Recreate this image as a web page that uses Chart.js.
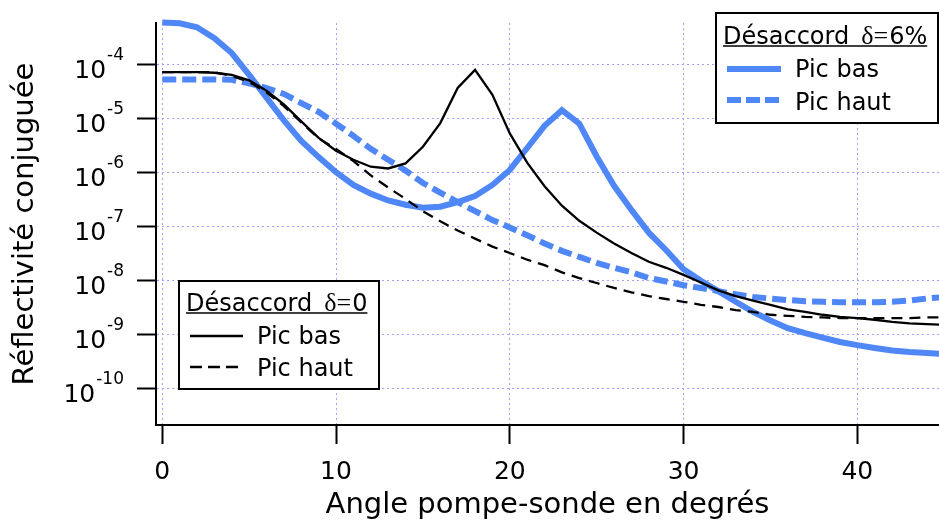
<!DOCTYPE html>
<html>
<head>
<meta charset="utf-8">
<script src="https://cdn.jsdelivr.net/npm/chart.js@4.4.0/dist/chart.umd.min.js"></script>
<style>
  html, body { margin: 0; padding: 0; background: #fff; }
  canvas { display: block; }
</style>
</head>
<body>
<canvas id="chart" width="939" height="520"></canvas>
<script>
// angle pompe-sonde (degrés)
const angles = [0, 1, 2, 3, 4, 5, 6, 7, 8, 9, 10, 11, 12, 13, 14, 15, 16, 17, 18, 19, 20, 21, 22,
  23, 24, 25, 26, 27, 28, 29, 30, 31, 32, 33, 34, 35, 36, 37, 38, 39, 40, 41, 42, 43, 44, 45];

// désaccord 6%
const picBas6 = [5.9e-4, 5.7e-4, 4.8e-4, 3.0e-4, 1.6e-4, 6.3e-5, 2.4e-5, 9.1e-6, 3.8e-6, 1.9e-6,
  1.0e-6, 5.8e-7, 4.0e-7, 3.0e-7, 2.5e-7, 2.2e-7, 2.3e-7, 2.8e-7, 3.6e-7, 5.8e-7,
  1.1e-6, 2.8e-6, 7.2e-6, 1.4e-5, 7.9e-6, 1.95e-6, 5.6e-7, 2.0e-7, 7.6e-8, 3.6e-8,
  1.6e-8, 9.8e-9, 6.3e-9, 4.0e-9, 2.6e-9, 1.8e-9, 1.3e-9, 1.05e-9, 8.7e-10, 7.2e-10,
  6.3e-10, 5.6e-10, 5.0e-10, 4.7e-10, 4.5e-10, 4.3e-10];
const picHaut6 = [5.2e-5, 5.2e-5, 5.2e-5, 5.2e-5, 5.1e-5, 4.4e-5, 3.6e-5, 2.8e-5, 1.9e-5, 1.3e-5,
  7.9e-6, 4.7e-6, 2.7e-6, 1.7e-6, 1.07e-6, 6.3e-7, 4.2e-7, 2.8e-7, 1.9e-7, 1.3e-7,
  9.5e-8, 6.8e-8, 4.8e-8, 3.5e-8, 2.7e-8, 2.1e-8, 1.7e-8, 1.4e-8, 1.1e-8, 9.5e-9,
  8.1e-9, 7.2e-9, 6.3e-9, 5.5e-9, 4.9e-9, 4.6e-9, 4.3e-9, 4.1e-9, 4.0e-9, 3.9e-9,
  3.9e-9, 3.9e-9, 4.0e-9, 4.2e-9, 4.6e-9, 4.9e-9];

// désaccord 0
const picBas0 = [7.1e-5, 7.1e-5, 7.1e-5, 6.9e-5, 6.3e-5, 5.0e-5, 3.2e-5, 1.8e-5, 8.7e-6, 4.3e-6,
  2.5e-6, 1.7e-6, 1.26e-6, 1.17e-6, 1.45e-6, 2.95e-6, 8.1e-6, 3.6e-5, 7.8e-5, 2.7e-5,
  5.2e-6, 1.5e-6, 5.5e-7, 2.4e-7, 1.26e-7, 7.6e-8, 4.8e-8, 3.2e-8, 2.2e-8, 1.7e-8,
  1.26e-8, 9.1e-9, 6.5e-9, 5.1e-9, 4.2e-9, 3.5e-9, 2.9e-9, 2.6e-9, 2.3e-9, 2.1e-9,
  2.0e-9, 1.86e-9, 1.7e-9, 1.6e-9, 1.55e-9, 1.5e-9];
const picHaut0 = [7.1e-5, 7.1e-5, 7.1e-5, 7.1e-5, 6.0e-5, 4.7e-5, 3.0e-5, 1.66e-5, 8.3e-6, 4.2e-6,
  2.7e-6, 1.6e-6, 8.7e-7, 5.2e-7, 3.2e-7, 1.9e-7, 1.23e-7, 8.3e-8, 5.9e-8, 4.2e-8,
  3.2e-8, 2.4e-8, 1.9e-8, 1.4e-8, 1.1e-8, 8.9e-9, 7.2e-9, 6.0e-9, 5.1e-9, 4.5e-9,
  4.0e-9, 3.5e-9, 3.2e-9, 2.8e-9, 2.6e-9, 2.3e-9, 2.2e-9, 2.1e-9, 2.05e-9, 2.0e-9,
  2.0e-9, 2.0e-9, 2.0e-9, 2.0e-9, 2.05e-9, 2.05e-9];

const xTicks = [0, 10, 20, 30, 40];
const decades = [1e-10, 1e-9, 1e-8, 1e-7, 1e-6, 1e-5, 1e-4];
const decadeExp = ['-10', '-9', '-8', '-7', '-6', '-5', '-4'];

const BLUE = '#4f87f7';
const GRID = '#a0a0ff';
const SANS = '"DejaVu Sans"';
const SERIF = '"Liberation Serif"';

Chart.defaults.font.family = SANS;
Chart.defaults.color = '#000';

// labels "10^n" with a real superscript
const yLabels = {
  id: 'yLabels',
  afterDraw(chart) {
    const ctx = chart.ctx;
    const y = chart.scales.y;
    ctx.save();
    ctx.fillStyle = '#000';
    ctx.textAlign = 'right';
    ctx.textBaseline = 'alphabetic';
    decades.forEach((v, i) => {
      const py = y.getPixelForValue(v);
      ctx.font = '17px ' + SANS;
      ctx.fillText(decadeExp[i], 124, py - 4);
      const w = ctx.measureText(decadeExp[i]).width;
      ctx.font = '25px ' + SANS;
      ctx.fillText('10', 124 - w - 1, py + 14);
    });
    ctx.restore();
  }
};

// two boxed legends, one per detuning
const legendBoxes = [
  { x: 716, y: 13, w: 222, h: 110, tx: 723, ty: 44, delta: '6%', sx: 727, sw: 54, lx: 795,
    rows: [{ ds: 2, y: 69, base: 77, dash: [] }, { ds: 3, y: 100, base: 110, dash: [14, 5] }] },
  { x: 179, y: 281, w: 200, h: 108, tx: 186, ty: 311, delta: '0', sx: 190, sw: 53, lx: 257,
    rows: [{ ds: 0, y: 336, base: 344, dash: [] }, { ds: 1, y: 367, base: 376, dash: [12, 6] }] }
];

const boxLegends = {
  id: 'boxLegends',
  afterDraw(chart) {
    const ctx = chart.ctx;
    legendBoxes.forEach(b => {
      ctx.save();
      ctx.fillStyle = '#fff';
      ctx.fillRect(b.x, b.y, b.w, b.h);
      ctx.strokeStyle = '#000';
      ctx.lineWidth = 2;
      ctx.strokeRect(b.x, b.y, b.w, b.h);

      ctx.fillStyle = '#000';
      ctx.textAlign = 'left';
      ctx.textBaseline = 'alphabetic';
      let x = b.tx;
      ctx.font = '24px ' + SANS;
      ctx.fillText('Désaccord', x, b.ty);
      x += ctx.measureText('Désaccord').width + 12;
      ctx.font = '26px ' + SERIF;
      ctx.fillText('δ=', x, b.ty);
      x += ctx.measureText('δ=').width + 1;
      ctx.font = '24px ' + SANS;
      ctx.fillText(b.delta, x, b.ty);
      x += ctx.measureText(b.delta).width;
      ctx.lineWidth = 1.5;
      ctx.beginPath();
      ctx.moveTo(b.tx, b.ty + 2);
      ctx.lineTo(x, b.ty + 2);
      ctx.stroke();

      b.rows.forEach(r => {
        const ds = chart.data.datasets[r.ds];
        ctx.save();
        ctx.strokeStyle = ds.borderColor;
        ctx.lineWidth = ds.borderWidth;
        ctx.setLineDash(r.dash);
        ctx.beginPath();
        ctx.moveTo(b.sx, r.y);
        ctx.lineTo(b.sx + b.sw, r.y);
        ctx.stroke();
        ctx.restore();
        ctx.font = '24px ' + SANS;
        ctx.fillText(ds.label, b.lx, r.base);
      });
      ctx.restore();
    });
  }
};

const gridOpts = {
  color: GRID,
  lineWidth: 1,
  tickLength: 19,
  tickWidth: 2,
  tickColor: '#000',
  tickBorderDash: []
};

new Chart(document.getElementById('chart'), {
  type: 'line',
  data: {
    labels: angles,
    datasets: [
      { label: 'Pic bas', data: picBas0, borderColor: '#000', borderWidth: 2.3 },
      { label: 'Pic haut', data: picHaut0, borderColor: '#000', borderWidth: 2.3, borderDash: [11, 7] },
      { label: 'Pic bas', data: picBas6, borderColor: BLUE, borderWidth: 6 },
      { label: 'Pic haut', data: picHaut6, borderColor: BLUE, borderWidth: 6, borderDash: [14, 6] }
    ]
  },
  options: {
    responsive: false,
    animation: false,
    devicePixelRatio: 1,
    layout: { padding: { top: 23, left: 0, right: 0, bottom: 0 } },
    elements: {
      point: { radius: 0 },
      line: { tension: 0, fill: false }
    },
    datasets: { line: { clip: false } },
    plugins: {
      legend: { display: false },
      tooltip: { enabled: false }
    },
    scales: {
      x: {
        type: 'linear',
        min: -0.36,
        max: 44.7,
        afterBuildTicks: s => { s.ticks = xTicks.map(v => ({ value: v })); },
        afterFit: s => { s.height = 95; },
        grid: gridOpts,
        border: { color: '#000', width: 2, dash: [2, 3] },
        ticks: { font: { size: 25 }, color: '#000', padding: 13, maxRotation: 0 },
        title: {
          display: true,
          text: 'Angle pompe-sonde en degrés',
          font: { size: 29, lineHeight: 1 },
          color: '#000',
          padding: { top: 0, bottom: 0 }
        }
      },
      y: {
        type: 'logarithmic',
        min: 2.1e-11,
        max: 5.75e-4,
        afterBuildTicks: s => { s.ticks = decades.map(v => ({ value: v })); },
        afterFit: s => { s.width = 156; },
        grid: gridOpts,
        border: { color: '#000', width: 2, dash: [2, 3] },
        ticks: { display: false },
        title: {
          display: true,
          text: 'Réflectivité conjuguée',
          font: { size: 29 },
          color: '#000',
          padding: { top: 8, bottom: 0 }
        }
      }
    }
  },
  plugins: [yLabels, boxLegends]
});
</script>
</body>
</html>
